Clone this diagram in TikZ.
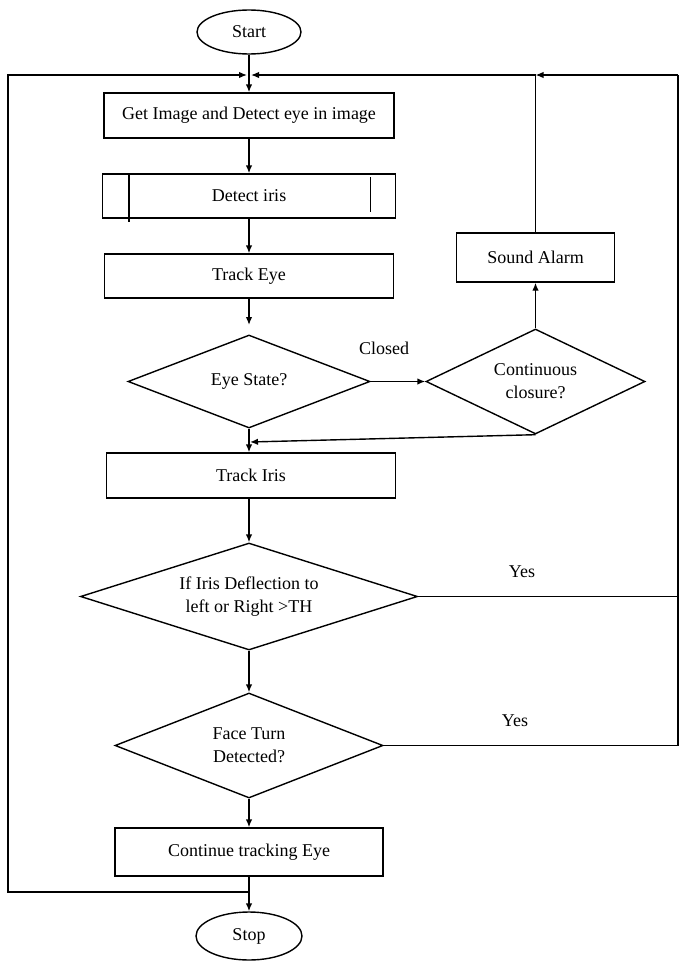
\documentclass[tikz,border=0pt]{standalone}
\usepackage{fontspec}
\setmainfont{Liberation Serif}
\usetikzlibrary{shapes.geometric,arrows.meta}
\begin{document}
\begin{tikzpicture}[x=1pt,y=-1pt,
  every node/.style={font=\fontsize{18}{23}\selectfont},
  box/.style={draw, line width=1.4pt, rectangle, inner sep=0pt, align=center},
  dec/.style={draw, line width=1.4pt, diamond, aspect=3, inner sep=0pt, align=center},
  term/.style={draw, line width=1.4pt, ellipse, inner sep=0pt},
  conn/.style={line width=1.4pt},
  arr/.style={conn, -{Latex[length=8pt,width=6.5pt]}},
  lbl/.style={inner sep=0pt}]
\useasboundingbox (0,0) rectangle (679,961);
% nodes
\node[term, minimum width=104pt, minimum height=44pt] (start) at (249,32) {Start};
\node[box, minimum width=290pt, minimum height=45pt] (gi) at (249,115.5) {Get Image and Detect eye in image};
\node[box, minimum width=293pt, minimum height=44pt] (di) at (249,196) {Detect iris};
\node[box, minimum width=289pt, minimum height=44pt] (te) at (249,276) {Track Eye};
\node[dec, minimum width=242pt, minimum height=93pt] (es) at (249,381.5) {Eye State?};
\node[dec, minimum width=219pt, minimum height=105pt] (cc) at (535.5,381.5) {Continuous\\closure?};
\node[box, minimum width=158pt, minimum height=49pt] (sa) at (535.5,257.5) {Sound Alarm};
\node[box, minimum width=289pt, minimum height=45pt] (ti) at (251,475.5) {Track Iris};
\node[dec, minimum width=337pt, minimum height=107pt] (dv) at (249,596.5) {If Iris Deflection to\\left or Right >TH};
\node[dec, minimum width=268pt, minimum height=105pt] (ft) at (249,745.5) {Face Turn\\Detected?};
\node[box, minimum width=268pt, minimum height=48pt] (ct) at (249,852) {Continue tracking Eye};
\node[term, minimum width=106pt, minimum height=48pt] (stop) at (249,936) {Stop};
% labels
\node[lbl] (lclosed) at (384,348) {Closed};
\node[lbl] (lyes1) at (522,572) {Yes};
\node[lbl] (lyes2) at (515,721) {Yes};
% inner lines of predefined process
\draw[conn] (di.north west) ++(27,0) -- ++(0,49);
\draw[conn] (di.north east) ++(-26,4) -- ++(0,35);
% coordinates
\coordinate (jt) at (249,75);
\coordinate (jtl) at (247,75);
\coordinate (jtr) at (251,75);
\coordinate (jb) at (249,892);
\coordinate (lb) at (8,892);
\coordinate (lt) at (8,75);
\coordinate (rt) at (535.5,75);
\coordinate (rc) at (678,75);
\coordinate (jm) at (250,442);
\coordinate (esin) at (249,325);
% connectors
\draw[arr] (start) -- (gi);
\draw[arr] (gi) -- (di);
\draw[arr] (di) -- (te);
\draw[arr] (te) -- (esin);
\draw[arr] (es.south) -- (es.south |- ti.north);
\draw[arr] (es.east) -- (cc.west);
\draw[arr] (cc.north) -- (sa.south);
\draw[conn] (sa.north) -- (rt);
\draw[arr] (rc) -- (rt);
\draw[arr] (rt) -- (jtr);
\draw[arr] (cc.south) -- (jm);
\draw[arr] (ti.south -| dv.north) -- (dv.north);
\draw[arr] (dv) -- (ft);
\draw[arr] (ft) -- (ct);
\draw[arr] (ct) -- (stop);
\draw[arr] (jb) -- (lb) -- (lt) -- (jtl);
\draw[conn] (dv.east) -- (dv.east -| rc);
\draw[conn] (ft.east) -- (ft.east -| rc) -- (rc);
\end{tikzpicture}
\end{document}
